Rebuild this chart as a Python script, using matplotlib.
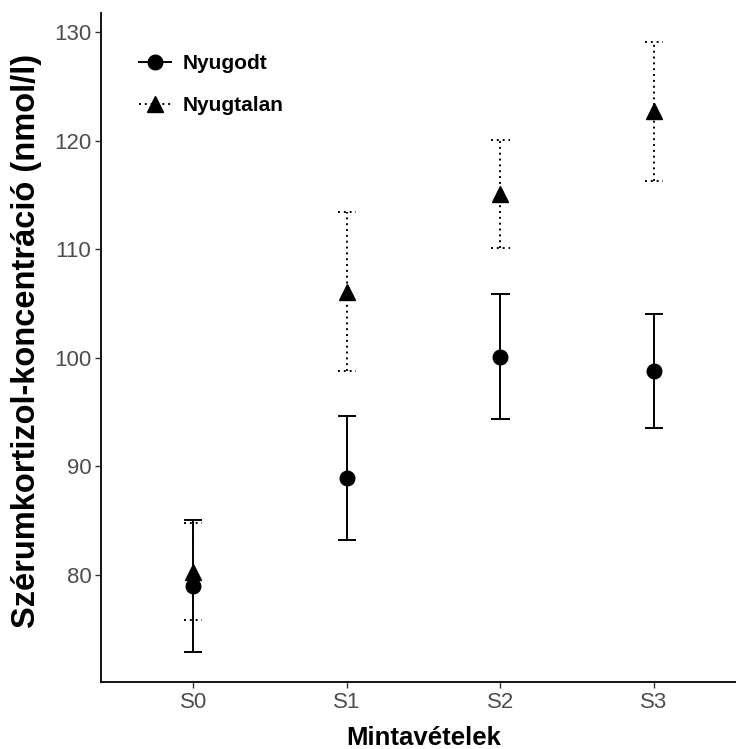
import numpy as np
import matplotlib.pyplot as plt
from matplotlib.lines import Line2D

# mintavételi időpontok
minta = ['S0', 'S1', 'S2', 'S3']

# átlagok és hibahatárok (nmol/l)
nyugodt_atlag = [79.0, 88.9, 100.1, 98.8]
nyugodt_hiba = [6.05, 5.7, 5.75, 5.25]
nyugtalan_atlag = [80.3, 106.1, 115.1, 122.7]
nyugtalan_hiba = [4.45, 7.3, 5.0, 6.4]

plt.rcParams['font.family'] = ['Liberation Sans', 'DejaVu Sans']

fig = plt.figure(figsize=(7.36, 7.49), dpi=100)
W, H = 736, 749
# tengely helye pixelben: bal 101, jobb 746, felső 13, alsó 682
ax = fig.add_axes([101 / W, (H - 682) / H, (746 - 101) / W, (682 - 13) / H])

x = np.arange(len(minta))
dotted = (0, (1, 2))
cap = 0.06

def hibavonal(atlag, hiba, ls):
    atlag = np.array(atlag)
    hiba = np.array(hiba)
    lo = atlag - hiba
    hi = atlag + hiba
    ax.vlines(x, lo, hi, colors='black', linestyles=[ls], linewidth=1.4, zorder=2)
    ax.hlines(lo, x - cap, x + cap, colors='black', linestyles=[ls], linewidth=1.4, zorder=2)
    ax.hlines(hi, x - cap, x + cap, colors='black', linestyles=[ls], linewidth=1.4, zorder=2)

hibavonal(nyugodt_atlag, nyugodt_hiba, 'solid')
hibavonal(nyugtalan_atlag, nyugtalan_hiba, dotted)

ax.plot(x, nyugodt_atlag, 'o', color='black', markersize=10.5, linestyle='none', zorder=3)
ax.plot(x, nyugtalan_atlag, '^', color='black', markersize=12, linestyle='none', zorder=3)

ax.set_xlim(-0.6, 3.6)
ax.set_ylim(70.15, 131.75)
ax.set_xticks(x)
ax.set_xticklabels(minta)
ax.set_yticks([80, 90, 100, 110, 120, 130])

for s in ['top', 'right']:
    ax.spines[s].set_visible(False)
for s in ['left', 'bottom']:
    ax.spines[s].set_linewidth(1.3)
    ax.spines[s].set_color('black')

ax.tick_params(axis='both', colors='#333333', labelcolor='#4d4d4d',
               labelsize=16, length=4, width=1.0, pad=3)

ax.set_xlabel('Mintavételek', fontsize=18.5, fontweight='bold')
ax.set_ylabel('Szérumkortizol-koncentráció (nmol/l)', fontsize=23.5,
              fontweight='bold')
ax.xaxis.set_label_coords(0.5, -0.066)
ax.yaxis.set_label_coords(-0.091, 0.51)

handles = [
    Line2D([], [], color='black', linestyle='solid', linewidth=1.4,
           marker='o', markersize=10.5),
    Line2D([], [], color='black', linestyle=dotted, linewidth=1.4,
           marker='^', markersize=12),
]
leg = ax.legend(handles, ['Nyugodt', 'Nyugtalan'], loc='upper left',
                bbox_to_anchor=(0.030, 0.966), frameon=False,
                prop={'weight': 'bold', 'size': 15}, handlelength=1.55,
                handletextpad=0.55, labelspacing=1.1)

fig.savefig('out.png', dpi=100)
